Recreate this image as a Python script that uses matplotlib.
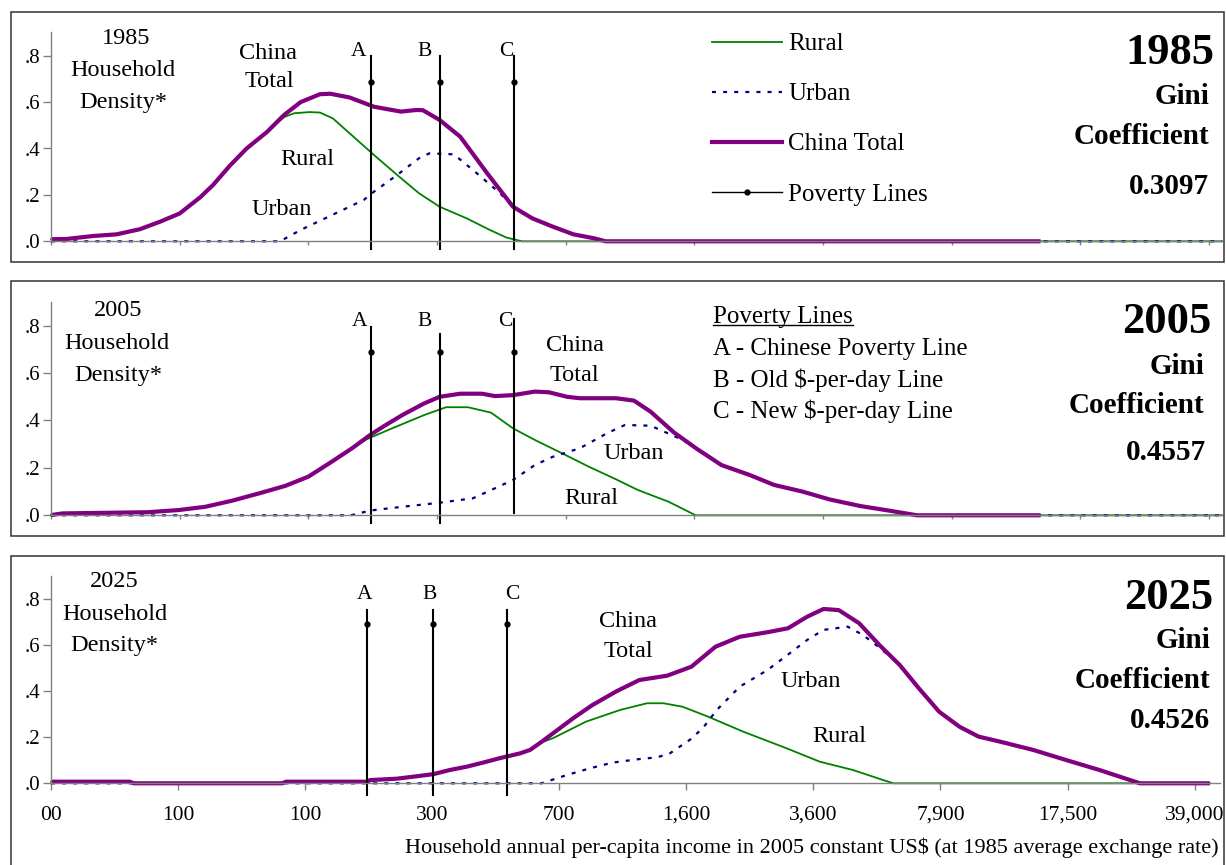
import matplotlib
matplotlib.use('Agg')
import matplotlib.pyplot as plt
from matplotlib.lines import Line2D
from matplotlib.patches import Rectangle

plt.rcParams['font.family'] = 'serif'
plt.rcParams['font.serif'] = ['Liberation Serif', 'DejaVu Serif']

# x is in tick units: 0 .. 9 along the income axis
xtick_labels = ['00', '100', '100', '300', '700', '1,600', '3,600', '7,900', '17,500', '39,000']
ytick_vals = [0, 0.2, 0.4, 0.6, 0.8]
ytick_labels = ['.0', '.2', '.4', '.6', '.8']

pov_names = ['A', 'B', 'C']
pov_x = [2.49, 3.02, 3.60]
pov_key = ['A - Chinese Poverty Line', 'B - Old $-per-day Line', 'C - New $-per-day Line']

years = ['1985', '2005', '2025']
gini = ['0.3097', '0.4557', '0.4526']

# 1985
tot85_x = [0, 0.12, 0.33, 0.51, 0.69, 0.85, 1.0, 1.16, 1.26, 1.39, 1.52, 1.68, 1.81, 1.94, 2.09, 2.17,
           2.32, 2.51, 2.72, 2.84, 2.89, 3.02, 3.18, 3.39, 3.59, 3.74, 3.90, 4.06, 4.22, 4.31, 7.69]
tot85_y = [0.009, 0.01, 0.023, 0.03, 0.052, 0.085, 0.12, 0.19, 0.243, 0.326, 0.40, 0.472, 0.544, 0.60,
           0.634, 0.636, 0.62, 0.58, 0.559, 0.566, 0.565, 0.523, 0.451, 0.293, 0.149, 0.099, 0.063,
           0.03, 0.013, 0.0, 0.0]
rur85_x = [0, 0.12, 0.33, 0.51, 0.69, 0.85, 1.0, 1.16, 1.26, 1.39, 1.52, 1.68, 1.81, 1.89, 2.01, 2.09,
           2.19, 2.35, 2.51, 2.69, 2.86, 3.02, 3.23, 3.41, 3.54, 3.66, 9.1]
rur85_y = [0.009, 0.01, 0.023, 0.03, 0.052, 0.085, 0.12, 0.19, 0.243, 0.326, 0.40, 0.472, 0.535, 0.552,
           0.557, 0.555, 0.53, 0.451, 0.372, 0.286, 0.207, 0.149, 0.099, 0.049, 0.016, 0.0, 0.0]
urb85_x = [0, 1.78, 1.94, 2.24, 2.43, 2.51, 2.69, 2.77, 2.86, 2.94, 3.13, 3.31, 3.49, 3.59, 3.74, 3.90,
           4.06, 4.22, 4.31, 9.1]
urb85_y = [0, 0, 0.049, 0.128, 0.178, 0.214, 0.286, 0.32, 0.358, 0.379, 0.375, 0.293, 0.207, 0.149,
           0.099, 0.063, 0.03, 0.013, 0, 0]

# 2005
tot05_x = [0, 0.09, 0.75, 0.99, 1.20, 1.41, 1.62, 1.82, 2.00, 2.17, 2.34, 2.48, 2.59, 2.73, 2.90, 3.02,
           3.18, 3.35, 3.45, 3.59, 3.76, 3.87, 4.01, 4.11, 4.39, 4.53, 4.66, 4.84, 5.02, 5.21, 5.43,
           5.62, 5.84, 6.05, 6.29, 6.51, 6.73, 7.69]
tot05_y = [0.001, 0.008, 0.013, 0.022, 0.036, 0.062, 0.093, 0.124, 0.163, 0.222, 0.283, 0.339, 0.377,
           0.423, 0.472, 0.50, 0.513, 0.513, 0.503, 0.507, 0.522, 0.519, 0.50, 0.494, 0.494, 0.484,
           0.437, 0.35, 0.28, 0.212, 0.17, 0.128, 0.10, 0.067, 0.039, 0.02, 0.0, 0.0]
rur05_x = [0, 0.09, 0.75, 0.99, 1.20, 1.41, 1.62, 1.82, 2.00, 2.17, 2.34, 2.45, 2.62, 2.90, 3.07, 3.24,
           3.42, 3.59, 3.76, 3.97, 4.18, 4.39, 4.56, 4.80, 5.01, 9.1]
rur05_y = [0.001, 0.008, 0.013, 0.022, 0.036, 0.062, 0.093, 0.124, 0.163, 0.222, 0.283, 0.32, 0.36,
           0.423, 0.456, 0.456, 0.433, 0.367, 0.318, 0.262, 0.205, 0.152, 0.107, 0.057, 0.0, 0.0]
urb05_x = [0, 2.33, 2.48, 2.73, 3.02, 3.28, 3.45, 3.59, 3.76, 3.90, 4.11, 4.32, 4.46, 4.66, 4.91, 5.02,
           5.21, 5.43, 5.62, 5.84, 6.05, 6.29, 6.51, 6.73, 9.1]
urb05_y = [0, 0, 0.02, 0.036, 0.053, 0.072, 0.114, 0.149, 0.212, 0.247, 0.283, 0.346, 0.381, 0.378,
           0.318, 0.28, 0.212, 0.17, 0.128, 0.10, 0.067, 0.039, 0.02, 0, 0]

# 2025
tot25_x = [0, 0.62, 0.65, 1.82, 1.85, 2.49, 2.51, 2.72, 2.87, 3.01, 3.14, 3.27, 3.40, 3.53, 3.69, 3.77,
           3.86, 3.95, 4.11, 4.26, 4.45, 4.63, 4.85, 5.04, 5.23, 5.42, 5.64, 5.80, 5.95, 6.08, 6.20,
           6.36, 6.52, 6.68, 6.83, 6.99, 7.15, 7.30, 7.47, 7.73, 7.99, 8.25, 8.57, 9.12]
tot25_y = [0.007, 0.007, 0.0, 0.0, 0.007, 0.007, 0.014, 0.02, 0.03, 0.04, 0.058, 0.072, 0.09, 0.109,
           0.13, 0.145, 0.18, 0.217, 0.283, 0.34, 0.40, 0.449, 0.468, 0.507, 0.594, 0.637, 0.657,
           0.674, 0.724, 0.758, 0.753, 0.696, 0.601, 0.514, 0.413, 0.311, 0.246, 0.203, 0.181, 0.145,
           0.101, 0.058, 0.0, 0.0]
rur25_x = [0, 0.62, 0.65, 1.82, 1.85, 2.49, 2.51, 2.72, 2.87, 3.01, 3.14, 3.27, 3.40, 3.53, 3.69, 3.77,
           3.87, 3.95, 4.21, 4.48, 4.69, 4.82, 4.97, 5.17, 5.45, 5.79, 6.05, 6.31, 6.55, 6.63, 9.12]
rur25_y = [0.007, 0.007, 0.0, 0.0, 0.007, 0.007, 0.014, 0.02, 0.03, 0.04, 0.058, 0.072, 0.09, 0.109,
           0.13, 0.145, 0.18, 0.196, 0.268, 0.319, 0.348, 0.348, 0.333, 0.29, 0.224, 0.152, 0.094,
           0.058, 0.014, 0.0, 0.0]
urb25_x = [0, 3.86, 4.06, 4.24, 4.42, 4.61, 4.77, 4.87, 5.03, 5.13, 5.24, 5.42, 5.64, 5.83, 5.95, 6.08,
           6.27, 6.39, 6.52, 6.68, 6.83, 6.99, 7.15, 7.30, 7.47, 7.73, 7.99, 8.25, 8.57, 9.12]
urb25_y = [0, 0.0, 0.036, 0.065, 0.09, 0.104, 0.113, 0.13, 0.19, 0.24, 0.319, 0.42, 0.493, 0.572,
           0.623, 0.667, 0.681, 0.645, 0.59, 0.514, 0.413, 0.311, 0.246, 0.203, 0.181, 0.145, 0.101,
           0.058, 0.0, 0.0]

GREEN = '#008000'
NAVY = '#000080'
PURPLE = '#800080'
GRAY = '#808080'

W, H = 1226, 865
fig = plt.figure(figsize=(W / 100, H / 100), dpi=100)


def fx(x):
    return x / W


def fy(y):
    return 1 - y / H


def make_panel(frame, box, xmax, xtick_len):
    l, t, r, b = frame
    fig.add_artist(Rectangle((fx(l), fy(b)), fx(r - l), (b - t) / H, transform=fig.transFigure,
                             fill=False, ec='#333333', lw=1.1))
    l, t, r, b = box
    ax = fig.add_axes([fx(l), fy(b), fx(r - l), (b - t) / H])
    ax.set_xlim(0, xmax)
    ax.set_ylim(0, 0.9)
    for s in ['top', 'right']:
        ax.spines[s].set_visible(False)
    for s in ['left', 'bottom']:
        ax.spines[s].set_color(GRAY)
        ax.spines[s].set_linewidth(1.0)
    ax.set_yticks(ytick_vals)
    ax.set_yticklabels(ytick_labels)
    ax.set_xticks(range(len(xtick_labels)))
    ax.set_xticklabels([])
    ax.tick_params(axis='y', length=5.5, width=1, color=GRAY, labelsize=15, pad=2)
    ax.tick_params(axis='x', length=xtick_len, width=1, color=GRAY, labelsize=15.5, pad=11)
    ax.patch.set_alpha(0)
    return ax


def draw_curves(ax, rx, ry, ux, uy, tx, ty):
    ax.plot(rx, ry, color=GREEN, lw=1.3, clip_on=False)
    ax.plot(ux, uy, color=NAVY, lw=1.6, ls=(0, (1.8, 3.2)), clip_on=False)
    ax.plot(tx, ty, color=PURPLE, lw=3.0, solid_capstyle='butt', clip_on=False)


def draw_poverty(ax, xs, tops, bottoms, dot_y, label_x, label_y):
    for x, t, b, name, lx in zip(xs, tops, bottoms, pov_names, label_x):
        ax.plot([x, x], [b, t], color='black', lw=1.5, clip_on=False)
        ax.plot([x], [dot_y], 'o', color='black', ms=3.5, clip_on=False)
        ax.text(lx, label_y, name, ha='center', va='center', fontsize=15.5)


def labels(ax, items, size=17.5):
    for txt, x, y in items:
        ax.text(x, y, txt, ha='center', va='center', fontsize=size)


def gini_block(year, value, pos):
    (x1, y1), (x2, y2), (x3, y3), (x4, y4) = pos
    fig.text(fx(x1), fy(y1 + 4), year, ha='right', va='center', fontsize=32, fontweight='bold')
    fig.text(fx(x2), fy(y2 + 3), 'Gini', ha='right', va='center', fontsize=21, fontweight='bold')
    fig.text(fx(x3), fy(y3 + 3), 'Coefficient', ha='right', va='center', fontsize=21, fontweight='bold')
    fig.text(fx(x4), fy(y4 + 3), value, ha='right', va='center', fontsize=21, fontweight='bold')


# ---- 1985 ----
ax1 = make_panel((11, 12, 1224, 262), (51, 32.5, 1222, 241.3), 9.1, 3)
draw_curves(ax1, rur85_x, rur85_y, urb85_x, urb85_y, tot85_x, tot85_y)
draw_poverty(ax1, pov_x, [0.80, 0.80, 0.80], [-0.035] * 3, 0.688, [2.39, 2.90, 3.54], 0.817)
labels(ax1, [('1985', 0.58, 0.876), ('Household', 0.56, 0.735), ('Density*', 0.56, 0.60),
             ('China', 1.69, 0.81), ('Total', 1.70, 0.688), ('Rural', 1.99, 0.353),
             ('Urban', 1.79, 0.135)])
gini_block(years[0], gini[0], [(1214, 49), (1209, 93), (1209, 133), (1209, 184)])
handles = [Line2D([], [], color=GREEN, lw=1.3, label='Rural'),
           Line2D([], [], color=NAVY, lw=1.6, ls=(0, (1.8, 3.2)), label='Urban'),
           Line2D([], [], color=PURPLE, lw=3.0, label='China Total'),
           Line2D([], [], color='black', lw=1.0, marker='o', ms=3.5, label='Poverty Lines')]
ax1.legend(handles=handles, loc='upper left', bbox_to_anchor=(fx(712), fy(33)),
           bbox_transform=fig.transFigure, frameon=False, fontsize=18, handlelength=2.8,
           handletextpad=0.25, labelspacing=1.1, borderpad=0, borderaxespad=0)

# ---- 2005 ----
ax2 = make_panel((11, 281, 1224, 536), (51, 302, 1222, 515.3), 9.1, 3)
draw_curves(ax2, rur05_x, rur05_y, urb05_x, urb05_y, tot05_x, tot05_y)
draw_poverty(ax2, pov_x, [0.796, 0.765, 0.827], [-0.031, -0.031, 0.008], 0.69, [2.40, 2.90, 3.53], 0.817)
labels(ax2, [('2005', 0.52, 0.866), ('Household', 0.51, 0.726), ('Density*', 0.52, 0.589),
             ('China', 4.07, 0.716), ('Total', 4.07, 0.589), ('Urban', 4.53, 0.259),
             ('Rural', 4.20, 0.069)])
gini_block(years[1], gini[1], [(1211, 318), (1204, 363), (1204, 402), (1206, 450)])
head = fig.text(fx(713), fy(316.7), 'Poverty Lines', ha='left', va='center', fontsize=18)
for txt, y in zip(pov_key, [349.3, 380.7, 411.7]):
    fig.text(fx(713), fy(y), txt, ha='left', va='center', fontsize=18)
fig.canvas.draw()
bb = head.get_window_extent()
fig.add_artist(Line2D([fx(bb.x0), fx(bb.x1)], [fy(325), fy(325)], transform=fig.transFigure,
                      color='black', lw=1.0))

# ---- 2025 ----
ax3 = make_panel((11, 556, 1224, 880), (51, 576.3, 1220, 783.3), 9.2, 5)
draw_curves(ax3, rur25_x, rur25_y, urb25_x, urb25_y, tot25_x, tot25_y)
draw_poverty(ax3, [2.49, 3.01, 3.59], [0.753] * 3, [-0.05] * 3, 0.691, [2.47, 2.98, 3.63], 0.819)
labels(ax3, [('2025', 0.50, 0.877), ('Household', 0.50, 0.732), ('Density*', 0.50, 0.598),
             ('China', 4.54, 0.703), ('Total', 4.54, 0.572), ('Urban', 5.98, 0.442),
             ('Rural', 6.20, 0.203)])
gini_block(years[2], gini[2], [(1213, 594), (1210, 638), (1210, 677), (1210, 717)])
ax3.set_xticklabels(xtick_labels)
ax3.set_xlabel('Household annual per-capita income in 2005 constant US$ (at 1985 average exchange rate)',
               fontsize=16, loc='right')
ax3.xaxis.set_label_coords((1219 - 51) / (1220 - 51), (783.3 - 838) / (783.3 - 576.3))

fig.savefig('out.png', dpi=100)
